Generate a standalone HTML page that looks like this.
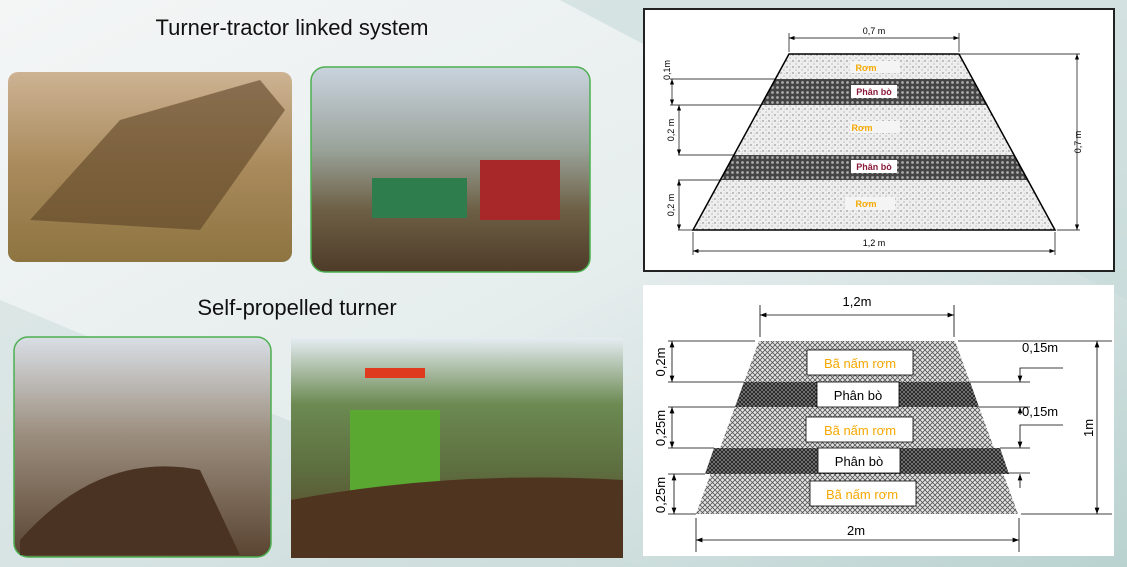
<!DOCTYPE html>
<html><head><meta charset="utf-8"><style>
html,body{margin:0;padding:0;width:1127px;height:567px;overflow:hidden}
svg{display:block}
text{font-family:"Liberation Sans",sans-serif}
</style></head><body>
<svg width="1127" height="567" viewBox="0 0 1127 567" xmlns="http://www.w3.org/2000/svg">
<defs>
<linearGradient id="bg" x1="0" y1="0" x2="1" y2="1">
<stop offset="0" stop-color="#f4f6f6"/><stop offset="0.5" stop-color="#e6eded"/><stop offset="1" stop-color="#b9d2d0"/>
</linearGradient>
<pattern id="dots" width="6" height="6" patternUnits="userSpaceOnUse">
<rect width="6" height="6" fill="#eeeeee"/><circle cx="1" cy="1" r="0.7" fill="#777"/><circle cx="4" cy="4" r="0.6" fill="#999"/><circle cx="4.5" cy="1.5" r="0.4" fill="#aaa"/></pattern>
<pattern id="dark" width="5" height="5" patternUnits="userSpaceOnUse">
<rect width="5" height="5" fill="#444"/><circle cx="2.5" cy="2.5" r="1.4" fill="#aaa"/></pattern>
<pattern id="cross" width="5" height="5" patternUnits="userSpaceOnUse">
<rect width="5" height="5" fill="#e4e4e4"/><path d="M0 0L5 5M5 0L0 5" stroke="#555" stroke-width="0.8"/></pattern>
<pattern id="cross2" width="4" height="4" patternUnits="userSpaceOnUse">
<rect width="4" height="4" fill="#222"/><path d="M0 0L4 4M4 0L0 4" stroke="#999" stroke-width="0.6"/></pattern>
<marker id="ar" markerWidth="8" markerHeight="6" refX="8" refY="3" orient="auto-start-reverse"><path d="M0 0L8 3L0 6z" fill="#000"/></marker>
<linearGradient id="p1" x1="0" y1="0" x2="0" y2="1"><stop offset="0" stop-color="#cdb393"/><stop offset="0.5" stop-color="#a98a5c"/><stop offset="1" stop-color="#8d7440"/></linearGradient>
<linearGradient id="p2" x1="0" y1="0" x2="0" y2="1"><stop offset="0" stop-color="#c9d3de"/><stop offset="0.4" stop-color="#9aa39a"/><stop offset="0.7" stop-color="#6d5f45"/><stop offset="1" stop-color="#4e3b28"/></linearGradient>
<linearGradient id="p3" x1="0" y1="0" x2="0" y2="1"><stop offset="0" stop-color="#d9dfe6"/><stop offset="0.45" stop-color="#9b8d7d"/><stop offset="1" stop-color="#5a4432"/></linearGradient>
<linearGradient id="p4" x1="0" y1="0" x2="0" y2="1"><stop offset="0" stop-color="#e5ecf2"/><stop offset="0.3" stop-color="#6c8a52"/><stop offset="0.6" stop-color="#5d6e3f"/><stop offset="1" stop-color="#5a3c24"/></linearGradient>
</defs>
<rect width="1127" height="567" fill="url(#bg)"/>
<polygon points="560,0 1127,0 1127,300" fill="#c7dbd9" opacity="0.6"/>
<polygon points="0,300 640,567 0,567" fill="#c9dcda" opacity="0.5"/>

<text x="292" y="35" font-size="22" text-anchor="middle" fill="#111">Turner-tractor linked system</text>
<text x="297" y="315" font-size="22" text-anchor="middle" fill="#111">Self-propelled turner</text>

<rect x="8" y="72" width="284" height="190" rx="10" fill="url(#p1)"/>
<path d="M30 220 L120 120 L260 80 L285 110 L200 230 Z" fill="#5d4427" opacity="0.6"/>
<rect x="311" y="67" width="279" height="205" rx="14" fill="url(#p2)" stroke="#4caf50" stroke-width="1.5"/>
<rect x="372" y="178" width="95" height="40" fill="#2e7d4d"/>
<rect x="480" y="160" width="80" height="60" fill="#a8282a"/>
<rect x="14" y="337" width="257" height="220" rx="14" fill="url(#p3)" stroke="#4caf50" stroke-width="1.5"/>
<path d="M20 540 Q100 450 200 470 L240 555 L20 555Z" fill="#4a3322"/>
<rect x="291" y="338" width="332" height="220" fill="url(#p4)"/>
<rect x="350" y="410" width="90" height="90" fill="#5aa832"/>
<rect x="365" y="368" width="60" height="10" fill="#e03a1e"/>
<path d="M291 500 Q450 470 623 480 L623 558 L291 558Z" fill="#4f3420"/>

<rect x="644" y="9" width="470" height="262" fill="#fff" stroke="#222" stroke-width="2"/>
<polygon points="789,54 959,54 1055,230 693,230" fill="url(#dots)"/>
<polygon points="775,79 973,79 987,105 761,105" fill="url(#dark)"/>
<polygon points="734,155 1014,155 1028,180 721,180" fill="url(#dark)"/>
<polygon points="789,54 959,54 1055,230 693,230" fill="none" stroke="#000" stroke-width="1.5"/>
<g stroke="#000" stroke-width="0.7" fill="none">
<line x1="789" y1="33" x2="789" y2="52"/><line x1="959" y1="33" x2="959" y2="52"/>
<line x1="789" y1="38" x2="959" y2="38" marker-start="url(#ar)" marker-end="url(#ar)"/>
<line x1="693" y1="232" x2="693" y2="255"/><line x1="1055" y1="232" x2="1055" y2="255"/>
<line x1="693" y1="251" x2="1055" y2="251" marker-start="url(#ar)" marker-end="url(#ar)"/>
<line x1="960" y1="54" x2="1080" y2="54"/><line x1="1057" y1="230" x2="1080" y2="230"/>
<line x1="1077" y1="54" x2="1077" y2="230" marker-start="url(#ar)" marker-end="url(#ar)"/>
<line x1="670" y1="79" x2="775" y2="79"/><line x1="670" y1="105" x2="761" y2="105"/>
<line x1="678" y1="155" x2="734" y2="155"/><line x1="678" y1="180" x2="721" y2="180"/>
<line x1="678" y1="230" x2="693" y2="230"/>
<line x1="672" y1="79" x2="672" y2="105" marker-start="url(#ar)" marker-end="url(#ar)"/>
<line x1="679" y1="105" x2="679" y2="155" marker-start="url(#ar)" marker-end="url(#ar)"/>
<line x1="679" y1="180" x2="679" y2="230" marker-start="url(#ar)" marker-end="url(#ar)"/>
</g>
<g font-size="9" fill="#000">
<text x="874" y="34" text-anchor="middle">0,7 m</text>
<text x="874" y="246" text-anchor="middle">1,2 m</text>
<text transform="translate(670,70) rotate(-90)" text-anchor="middle">0,1m</text>
<text transform="translate(674,130) rotate(-90)" text-anchor="middle">0,2 m</text>
<text transform="translate(674,205) rotate(-90)" text-anchor="middle">0,2 m</text>
<text transform="translate(1081,142) rotate(-90)" text-anchor="middle">0,7 m</text>
</g>
<g font-size="9" font-weight="bold" text-anchor="middle">
<rect x="850" y="61" width="50" height="12" fill="#f4f4f4"/><text x="866" y="71" fill="#f5a800">Rơm</text>
<rect x="851" y="85" width="46" height="13" fill="#fff"/><text x="874" y="95" fill="#8b1a3a">Phân bò</text>
<rect x="850" y="121" width="50" height="12" fill="#f4f4f4"/><text x="862" y="131" fill="#f5a800">Rơm</text>
<rect x="851" y="160" width="46" height="13" fill="#fff"/><text x="874" y="170" fill="#8b1a3a">Phân bò</text>
<rect x="845" y="197" width="50" height="13" fill="#f4f4f4"/><text x="866" y="207" fill="#f5a800">Rơm</text>
</g>

<rect x="643" y="285" width="471" height="271" fill="#fff"/>
<polygon points="759,341 955,341 1018,514 696,514" fill="url(#cross)"/>
<polygon points="744,382 970,382 979,407 735,407" fill="url(#cross2)"/>
<polygon points="714,448 1000,448 1009,474 705,474" fill="url(#cross2)"/>
<g stroke="#000" stroke-width="0.8" fill="none">
<line x1="760" y1="305" x2="760" y2="337"/><line x1="954" y1="305" x2="954" y2="337"/>
<line x1="760" y1="315" x2="954" y2="315" marker-start="url(#ar)" marker-end="url(#ar)"/>
<line x1="696" y1="518" x2="696" y2="552"/><line x1="1019" y1="518" x2="1019" y2="552"/>
<line x1="696" y1="540" x2="1019" y2="540" marker-start="url(#ar)" marker-end="url(#ar)"/>
<line x1="668" y1="341" x2="755" y2="341"/><line x1="958" y1="341" x2="1112" y2="341"/>
<line x1="668" y1="382" x2="744" y2="382"/><line x1="970" y1="382" x2="1030" y2="382"/>
<line x1="668" y1="407" x2="735" y2="407"/><line x1="979" y1="407" x2="1030" y2="407"/>
<line x1="668" y1="448" x2="714" y2="448"/><line x1="1000" y1="448" x2="1030" y2="448"/>
<line x1="668" y1="474" x2="705" y2="474"/><line x1="1007" y1="473" x2="1030" y2="473"/>
<line x1="668" y1="514" x2="696" y2="514"/><line x1="1021" y1="514" x2="1112" y2="514"/>
<line x1="672" y1="341" x2="672" y2="382" marker-start="url(#ar)" marker-end="url(#ar)"/>
<line x1="672" y1="407" x2="672" y2="448" marker-start="url(#ar)" marker-end="url(#ar)"/>
<line x1="674" y1="474" x2="674" y2="514" marker-start="url(#ar)" marker-end="url(#ar)"/>
<line x1="1097" y1="341" x2="1097" y2="514" marker-start="url(#ar)" marker-end="url(#ar)"/>
<polyline points="1063,368 1020,368 1020,382" marker-end="url(#ar)"/>
<polyline points="1063,425 1020,425 1020,448" marker-end="url(#ar)"/>
<line x1="1020" y1="407" x2="1020" y2="415" marker-start="url(#ar)"/>
<line x1="1020" y1="488" x2="1020" y2="474" marker-end="url(#ar)"/>
</g>
<g font-size="13" fill="#000">
<text x="857" y="306" text-anchor="middle">1,2m</text>
<text x="856" y="535" text-anchor="middle">2m</text>
<text x="1022" y="352">0,15m</text>
<text x="1022" y="416">0,15m</text>
<text transform="translate(665,362) rotate(-90)" text-anchor="middle">0,2m</text>
<text transform="translate(665,428) rotate(-90)" text-anchor="middle">0,25m</text>
<text transform="translate(665,495) rotate(-90)" text-anchor="middle">0,25m</text>
<text transform="translate(1093,428) rotate(-90)" text-anchor="middle">1m</text>
</g>
<g font-size="13" text-anchor="middle" stroke-width="0.8">
<rect x="807" y="350" width="106" height="25" fill="#fff" stroke="#000"/><text x="860" y="368" fill="#f5a800">Bã nấm rơm</text>
<rect x="817" y="382" width="82" height="25" fill="#fff" stroke="#000"/><text x="858" y="400" fill="#000">Phân bò</text>
<rect x="806" y="417" width="107" height="25" fill="#fff" stroke="#000"/><text x="860" y="435" fill="#f5a800">Bã nấm rơm</text>
<rect x="818" y="448" width="82" height="25" fill="#fff" stroke="#000"/><text x="859" y="466" fill="#000">Phân bò</text>
<rect x="810" y="481" width="106" height="25" fill="#fff" stroke="#000"/><text x="862" y="499" fill="#f5a800">Bã nấm rơm</text>
</g>
</svg>
</body></html>
